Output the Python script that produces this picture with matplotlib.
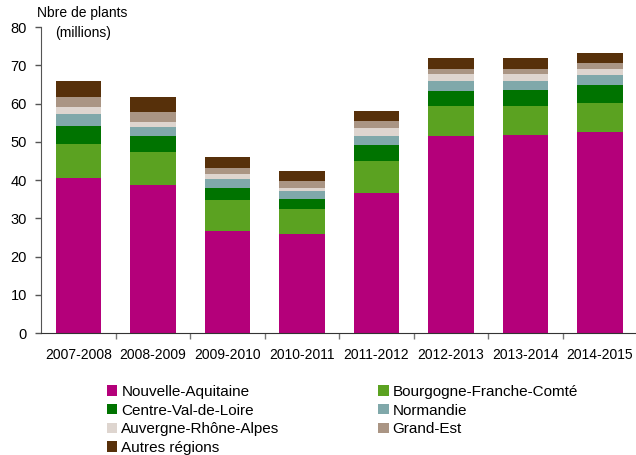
import matplotlib
matplotlib.use("Agg")
import matplotlib.pyplot as plt
import numpy as np
from matplotlib.patches import Patch

plt.rcParams['font.family'] = ['Liberation Sans', 'DejaVu Sans']

categories = ["2007-2008", "2008-2009", "2009-2010", "2010-2011",
              "2011-2012", "2012-2013", "2013-2014", "2014-2015"]
series_names = ["Nouvelle-Aquitaine", "Bourgogne-Franche-Comté", "Centre-Val-de-Loire",
                "Normandie", "Auvergne-Rhône-Alpes", "Grand-Est", "Autres régions"]
nouvelle_aquitaine = [40.5, 38.7, 26.7, 25.9, 36.6, 51.5, 51.8, 52.5]
bourgogne_fc = [8.9, 8.6, 8.1, 6.5, 8.4, 7.8, 7.5, 7.6]
centre_vdl = [4.7, 4.2, 3.1, 2.6, 4.2, 4.0, 4.2, 4.7]
normandie = [3.2, 2.4, 2.4, 2.1, 2.3, 2.6, 2.4, 2.7]
auvergne_ra = [1.8, 1.3, 1.3, 0.8, 2.1, 1.8, 1.8, 1.5]
grand_est = [2.6, 2.6, 1.5, 1.8, 1.8, 1.3, 1.3, 1.6]
autres = [4.2, 3.9, 2.9, 2.7, 2.6, 2.9, 2.9, 2.6]
colors = ["#B4007A", "#5BA221", "#007300", "#80A8AA", "#DED5CF", "#AA9584", "#57300A"]

series = [nouvelle_aquitaine, bourgogne_fc, centre_vdl, normandie, auvergne_ra, grand_est, autres]

fig = plt.figure(figsize=(6.36, 4.55), dpi=100)
ax = fig.add_axes([0.065, 0.268, 0.937, 0.6725])

x = np.arange(len(categories))
bottom = np.zeros(len(categories))
for vals, c in zip(series, colors):
    ax.bar(x, vals, width=0.615, bottom=bottom, color=c, linewidth=0)
    bottom += np.array(vals)

ax.set_xlim(-0.5, len(categories) - 0.5)
ax.set_ylim(0, 80)
ax.set_yticks(range(0, 81, 10))
ax.tick_params(axis='y', labelsize=10.5, length=4.5, width=1, color='#555555', pad=6)
ax.set_xticks(x)
ax.set_xticklabels(categories, fontsize=10)
ax.tick_params(axis='x', length=0, pad=11)
ax.set_xticks(np.arange(0.5, len(categories) - 0.5, 1), minor=True)
ax.tick_params(axis='x', which='minor', length=4, width=1, color='#777777')
for s in ['top', 'right']:
    ax.spines[s].set_visible(False)
ax.spines['left'].set_color('#555555')
ax.spines['bottom'].set_color('#333333')

fig.text(37 / 636, 1 - 17.5 / 455, "Nbre de plants", fontsize=10, ha='left', va='baseline')
fig.text(55 / 636, 1 - 37 / 455, "(millions)", fontsize=10, ha='left', va='baseline')

# column-major ordering so the legend reads row by row like the reference
order = [0, 2, 4, 6, 1, 3, 5]
handles = [Patch(facecolor=colors[i], edgecolor='none') for i in order]
labels = [series_names[i] for i in order]
leg = fig.legend(handles, labels, loc='upper left', bbox_to_anchor=(107 / 636, 1 - 385 / 455),
                 ncol=2, frameon=False, fontsize=11, handlelength=0.68, handleheight=0.68,
                 handletextpad=0.26, labelspacing=0.3, columnspacing=6.45,
                 borderaxespad=0, borderpad=0)

fig.savefig("out.png", dpi=100)
